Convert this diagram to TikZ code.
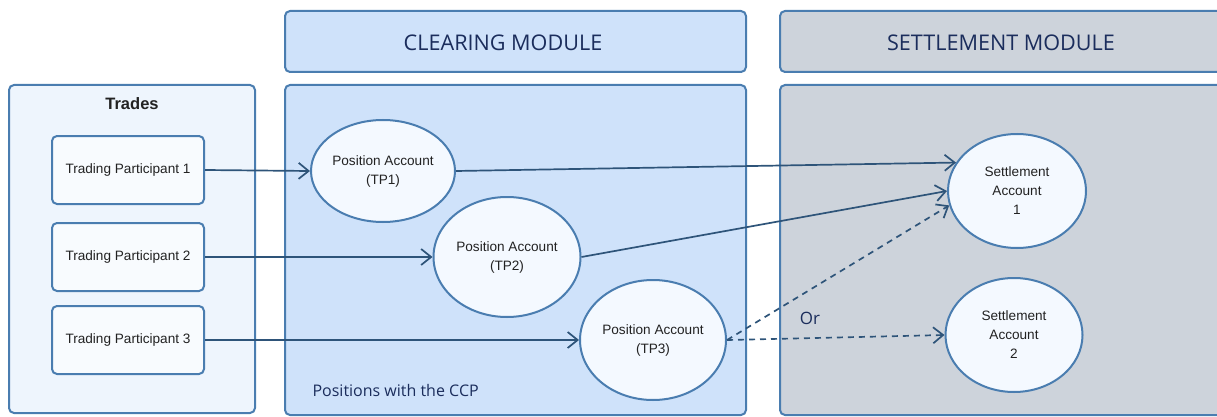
\documentclass[tikz,border=0pt]{standalone}
\usepackage{fontspec}
\setmainfont{Liberation Sans}
\newfontfamily\hdrfont{Open Sans}
\usetikzlibrary{arrows.meta,shapes.geometric}
\definecolor{edgec}{HTML}{4A7DB0}
\definecolor{bluefill}{HTML}{CFE2FA}
\definecolor{palefill}{HTML}{EEF5FD}
\definecolor{grayfill}{HTML}{CDD3DB}
\definecolor{ellfill}{HTML}{F4F9FF}
\definecolor{arrowc}{HTML}{2E5479}
\definecolor{navy}{HTML}{1B2D5C}
\definecolor{txt}{HTML}{222222}
\begin{document}
\begin{tikzpicture}[x=1pt,y=-1pt,
  panel/.style={draw=edgec, line width=2pt, rounded corners=5pt, inner sep=0pt},
  tpbox/.style={draw=edgec, line width=2pt, rounded corners=5pt, fill=white!60!palefill,
    minimum width=152pt, minimum height=68pt, inner sep=0pt, text=txt,
    font=\fontsize{13.6}{16}\selectfont},
  ell/.style={ellipse, draw=edgec, line width=2pt, fill=ellfill, inner sep=0pt,
    align=center, text=txt, font=\fontsize{13.6}{19}\selectfont},
  hdr/.style={text=navy, font=\hdrfont\fontsize{21.6}{25}\selectfont},
  arr/.style={draw=arrowc, line width=1.7pt, -{Straight Barb[length=10pt,width=16pt,line width=1.7pt]}},
  darr/.style={arr, dash pattern=on 6pt off 5pt}
]
\clip (0,0) rectangle (1217,417);
% panels
\node[panel, fill=palefill, minimum width=246pt, minimum height=328pt] (trades) at (132,249) {};
\node[panel, fill=bluefill, minimum width=461pt, minimum height=61pt] (clearhdr) at (515.5,41.5) {};
\node[panel, fill=bluefill, minimum width=461pt, minimum height=330pt] (clear) at (515.5,250) {};
\node[panel, fill=grayfill, minimum width=460pt, minimum height=61pt] (setthdr) at (1010,41.5) {};
\node[panel, fill=grayfill, minimum width=460pt, minimum height=330pt] (sett) at (1010,250) {};
% titles
\node[hdr] (cltitle) at (503,43) {CLEARING MODULE};
\node[hdr] (sttitle) at (1001,43) {SETTLEMENT MODULE};
\node[text=txt, font=\bfseries\fontsize{16.5}{20}\selectfont] (tradestitle) at (132,104) {Trades};
% trading participants
\node[tpbox] (tp1) at (128,170) {Trading Participant 1};
\node[tpbox] (tp2) at (128,257) {Trading Participant 2};
\node[tpbox] (tp3) at (128,340) {Trading Participant 3};
% position accounts
\node[ell, minimum width=144pt, minimum height=102pt] (pa1) at (383,171) {Position Account\\(TP1)};
\node[ell, minimum width=147pt, minimum height=120pt] (pa2) at (507,257) {Position Account\\(TP2)};
\node[ell, minimum width=146pt, minimum height=120pt] (pa3) at (653,340) {Position Account\\(TP3)};
% settlement accounts
\node[ell, minimum width=138pt, minimum height=114pt] (sa1) at (1017,191) {Settlement\\Account\\1};
\node[ell, minimum width=137pt, minimum height=114pt] (sa2) at (1014,335) {Settlement\\Account\\2};
% labels
\node[text=navy, font=\hdrfont\fontsize{17}{20}\selectfont] (orlbl) at (810,318) {Or};
\node[anchor=west, text=navy, font=\hdrfont\fontsize{16}{19}\selectfont] (ccp) at (309,390) {Positions with the CCP};
% connectors
\draw[arr] (tp1.east) -- (pa1.west);
\draw[arr] (tp2.east) -- (pa2.west);
\draw[arr] (tp3.east) -- (pa3.west);
\draw[arr] (pa1.east) -- (sa1.155);
\draw[arr] (pa2.east) -- (sa1.west);
\draw[darr] (pa3.east) -- (sa1.192);
\draw[darr] (pa3.east) -- (sa2.west);
\end{tikzpicture}
\end{document}
